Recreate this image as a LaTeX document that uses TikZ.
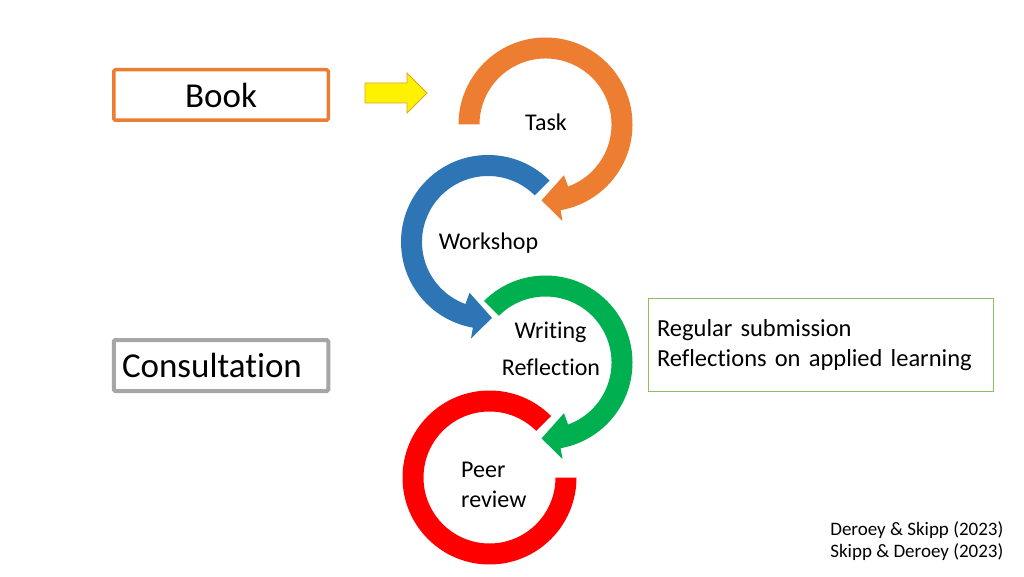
\documentclass[tikz,border=0pt]{standalone}
\usepackage{fontspec}
\setmainfont{Carlito}[Ligatures=NoCommon]
\usetikzlibrary{calc}
\definecolor{taskorange}{RGB}{237,125,49}
\definecolor{workblue}{RGB}{46,117,182}
\definecolor{writegreen}{RGB}{0,176,80}
\definecolor{peerred}{RGB}{255,0,0}
\definecolor{consultgrey}{RGB}{166,166,166}
\definecolor{notegreen}{RGB}{140,190,100}
\definecolor{pointergold}{RGB}{228,160,40}
% #1 centre, #2 colour, #3 start, #4 outer base, #5 tip, #6 inner base
\newcommand{\ringarrow}[6]{%
  \fill[#2] ($(#1)+(#3:87)$) arc[start angle=#3, end angle=#4, radius=87]
    -- ($(#1)+(#4:98)$) -- ($(#1)+(#5:76)$) -- ($(#1)+(#6:54)$)
    -- ($(#1)+(#6:66)$) arc[start angle=#6, end angle=#3, radius=66] -- cycle;}

\begin{document}
\begin{tikzpicture}[x=1pt, y=1pt,
   sidebox/.style={draw, rounded corners=1.5pt, minimum width=214.5pt,
      inner sep=0pt},
   bigtext/.style={font=\fontsize{35}{42}\selectfont},
   lab/.style={font=\fontsize{24}{30}\selectfont, inner sep=0pt},
   note/.style={draw=notegreen, line width=1pt, minimum width=345pt,
      minimum height=93pt, text width=328pt, align=left, inner xsep=8.5pt,
      font=\fontsize{24.5}{30}\selectfont},
   cite/.style={align=right, inner sep=0pt, font=\fontsize{19}{22}\selectfont}
]
\fill[white] (0,0) rectangle (1024,576);
\useasboundingbox (0,0) rectangle (1024,576);

\coordinate (ctask) at (545.5,451.5);
\coordinate (cwork) at (488,334);
\coordinate (cwrite) at (545.5,213.5);
\coordinate (cpeer) at (489.5,98.5);

\ringarrow{ctask}{taskorange}{180}{-80}{-93}{-70}
\ringarrow{cwork}{workblue}{45}{260}{273}{250}
\ringarrow{cwrite}{writegreen}{135}{-80}{-93}{-70}
\fill[peerred] ($(cpeer)+(45:87)$) arc[start angle=45, end angle=360, radius=87]
   -- ($(cpeer)+(0:66)$) arc[start angle=360, end angle=45, radius=66] -- cycle;

\node[sidebox, bigtext, draw=taskorange, line width=3.5pt,
   minimum height=50.5pt] (book) at (221,481) {Book};
\node[sidebox, bigtext, draw=consultgrey, line width=4pt, minimum height=51pt,
   text width=198pt, align=left, inner xsep=8pt] (consult) at (221,210.5)
   {Consultation};
\filldraw[fill=yellow, draw=pointergold, line width=0.8pt]
   (365,473) -- (407,473) -- (407,463) -- (427,483) -- (407,503)
   -- (407,493) -- (365,493) -- cycle;

\node[lab, anchor=base] (task) at (546,445) {Task};
\node[lab, anchor=base] (workshop) at (488.5,326) {Workshop};
\node[lab, anchor=base] (writing) at (550.5,238) {Writing};
\node[lab, anchor=base] (reflection) at (551,201) {Reflection};
\node[lab, align=left, anchor=west] (peer) at (461,91.6) {Peer\\review};

\node[note] (submission) at (821,231)
   {Regular submission\\Reflections on applied learning};
\node[cite, anchor=east] (refs) at (1003.5,35.1)
   {Deroey \& Skipp (2023)\\Skipp \& Deroey (2023)};
\end{tikzpicture}
\end{document}
